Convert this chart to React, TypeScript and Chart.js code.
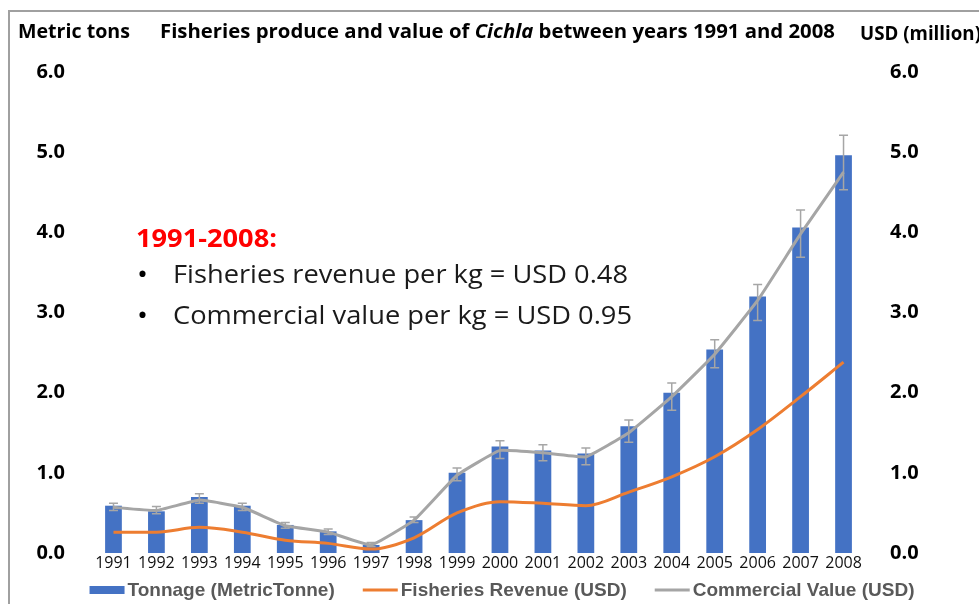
import React, { useEffect, useLayoutEffect, useRef } from "react";
import { Chart, registerables } from "chart.js";

Chart.register(...registerables);

const years = ["1991","1992","1993","1994","1995","1996","1997","1998","1999","2000","2001","2002","2003","2004","2005","2006","2007","2008"];
const tonnage = [0.59,0.52,0.70,0.59,0.35,0.27,0.10,0.41,1.00,1.33,1.28,1.24,1.58,2.00,2.54,3.20,4.06,4.96];
const fisheriesRevenue = [0.26,0.26,0.32,0.26,0.16,0.12,0.05,0.19,0.50,0.64,0.62,0.59,0.76,0.95,1.20,1.54,1.95,2.38];
const commercialValue = [0.57,0.53,0.66,0.57,0.34,0.26,0.10,0.41,0.97,1.28,1.25,1.20,1.50,1.95,2.48,3.15,3.98,4.75];
const errHigh = [0.62,0.58,0.74,0.62,0.38,0.30,0.13,0.45,1.06,1.40,1.35,1.31,1.66,2.12,2.66,3.35,4.28,5.21];
const errLow = [0.53,0.49,0.62,0.53,0.31,0.23,0.08,0.38,0.90,1.18,1.15,1.10,1.38,1.78,2.31,2.90,3.69,4.53];
const axisMin = 0;
const axisMax = 6;
const axisStep = 1;

const seriesNames = ["Tonnage (MetricTonne)", "Fisheries Revenue (USD)", "Commercial Value (USD)"];
const BLUE = "#4472C4";
const ORANGE = "#ED7D31";
const GRAY = "#A5A5A5";

const errorBarPlugin = {
  id: "errorBars",
  afterDatasetDraw(chart: any, args: any) {
    if (args.index !== 0) return;
    const { ctx } = chart;
    const xs = chart.scales.x;
    const ys = chart.scales.y;
    ctx.save();
    ctx.strokeStyle = "#A6A6A6";
    ctx.lineWidth = 1.5;
    for (let i = 0; i < years.length; i++) {
      const x = xs.getPixelForValue(i);
      const yh = ys.getPixelForValue(errHigh[i]);
      const yl = ys.getPixelForValue(errLow[i]);
      ctx.beginPath();
      ctx.moveTo(x, yh); ctx.lineTo(x, yl);
      ctx.moveTo(x - 4.5, yh); ctx.lineTo(x + 4.5, yh);
      ctx.moveTo(x - 4.5, yl); ctx.lineTo(x + 4.5, yl);
      ctx.stroke();
    }
    ctx.restore();
  },
};

const legendPlugin = {
  id: "customLegend",
  afterDraw(chart: any) {
    const { ctx } = chart;
    ctx.save();
    ctx.font = "bold 19px 'Liberation Sans', Arial, sans-serif";
    ctx.textBaseline = "middle";
    const y = 590;
    const swatch = 35;
    const gapText = 3;
    const gapItem = 28;
    const widths = seriesNames.map((n) => swatch + gapText + ctx.measureText(n).width);
    const total = widths.reduce((a, b) => a + b, 0) + gapItem * (seriesNames.length - 1);
    let x = 502 - total / 2;
    const colors = [BLUE, ORANGE, GRAY];
    seriesNames.forEach((n, i) => {
      if (i === 0) {
        ctx.fillStyle = colors[i];
        ctx.fillRect(x, y - 4, swatch, 8);
      } else {
        ctx.strokeStyle = colors[i];
        ctx.lineWidth = 3;
        ctx.beginPath();
        ctx.moveTo(x, y); ctx.lineTo(x + swatch, y);
        ctx.stroke();
      }
      ctx.fillStyle = "#595959";
      ctx.fillText(n, x + swatch + gapText, y + 1);
      x += widths[i] + gapItem;
    });
    ctx.restore();
  },
};

function FitText(props: { x: number; cy: number; w: number; size: number; weight?: string; color?: string; children: any }) {
  const ref = useRef<HTMLSpanElement>(null);
  useLayoutEffect(() => {
    const fit = () => {
      const el = ref.current;
      if (!el) return;
      el.style.transform = "none";
      const width = el.getBoundingClientRect().width;
      if (width > 0) el.style.transform = `scaleX(${props.w / width})`;
    };
    fit();
    (document as any).fonts?.ready?.then(fit);
  });
  return (
    <span
      ref={ref}
      style={{
        position: "absolute",
        left: props.x,
        top: props.cy - props.size * 0.68,
        fontFamily: "'Open Sans', 'Noto Sans', sans-serif",
        fontSize: props.size,
        fontWeight: props.weight || "normal",
        color: props.color || "#000",
        whiteSpace: "nowrap",
        lineHeight: 1.36,
        transformOrigin: "0 50%",
      }}
    >
      {props.children}
    </span>
  );
}

export default function App() {
  const canvasRef = useRef<HTMLCanvasElement>(null);

  useEffect(() => {
    const canvas = canvasRef.current!;
    const tickFont = { family: "'Open Sans', sans-serif", size: 20, weight: "bold" as const };
    const chart = new Chart(canvas, {
      type: "bar",
      data: {
        labels: years,
        datasets: [
          {
            type: "bar",
            label: seriesNames[0],
            data: tonnage,
            backgroundColor: BLUE,
            borderWidth: 0,
            barPercentage: 0.39,
            categoryPercentage: 1,
            yAxisID: "y",
            order: 3,
          } as any,
          {
            type: "line",
            label: seriesNames[1],
            data: fisheriesRevenue,
            borderColor: ORANGE,
            backgroundColor: ORANGE,
            borderWidth: 3,
            pointRadius: 0,
            cubicInterpolationMode: "monotone",
            yAxisID: "y1",
            order: 2,
          } as any,
          {
            type: "line",
            label: seriesNames[2],
            data: commercialValue,
            borderColor: GRAY,
            backgroundColor: GRAY,
            borderWidth: 3,
            pointRadius: 0,
            tension: 0.1,
            yAxisID: "y1",
            order: 1,
          } as any,
        ],
      },
      options: {
        animation: false,
        responsive: false,
        devicePixelRatio: 1,
        layout: { padding: { top: 72, bottom: 29, left: 0, right: 0 } },
        plugins: { legend: { display: false }, tooltip: { enabled: false } },
        scales: {
          x: {
            grid: { display: false, drawTicks: false },
            border: { display: false },
            ticks: {
              font: { family: "'Open Sans', sans-serif", size: 16 },
              color: "#111",
              padding: 1,
              maxRotation: 0,
              autoSkip: false,
            },
            afterFit: (s: any) => { s.height = 22; },
          },
          y: {
            position: "left",
            min: axisMin,
            max: axisMax,
            grid: { display: false, drawTicks: false },
            border: { display: false },
            ticks: { stepSize: axisStep, font: tickFont, color: "#000", padding: 27, callback: (v: any) => Number(v).toFixed(1) },
            afterFit: (s: any) => { s.width = 92; },
          },
          y1: {
            position: "right",
            min: axisMin,
            max: axisMax,
            grid: { display: false, drawTicks: false },
            border: { display: false },
            ticks: { stepSize: axisStep, font: tickFont, color: "#000", padding: 25, callback: (v: any) => Number(v).toFixed(1) },
            afterFit: (s: any) => { s.width = 114; },
          },
        },
      } as any,
      plugins: [errorBarPlugin, legendPlugin],
    });
    return () => chart.destroy();
  }, []);

  return (
    <div style={{ position: "fixed", left: 0, top: 0, width: 979, height: 604, overflow: "hidden", background: "#fff" }}>
      <div style={{ position: "absolute", left: 8, top: 10, width: 1100, height: 800, borderLeft: "2px solid #A0A0A0", borderTop: "2px solid #A0A0A0" }} />
      <canvas ref={canvasRef} width={979} height={604} style={{ position: "absolute", left: 0, top: 0, width: 979, height: 604 }} />
      <FitText x={18} cy={31} w={112} size={20} weight="bold">Metric tons</FitText>
      <FitText x={160} cy={31} w={675} size={20} weight="bold">
        Fisheries produce and value of <i>Cichla</i> between years 1991 and 2008
      </FitText>
      <FitText x={860} cy={33} w={121} size={20} weight="bold">USD (million)</FitText>
      <FitText x={136} cy={237} w={141} size={25} weight="bold" color="#FF0000">1991-2008:</FitText>
      <FitText x={137} cy={273} w={11} size={28}>•</FitText>
      <FitText x={173} cy={273} w={455} size={25} color="#1a1a1a">Fisheries revenue per kg = USD 0.48</FitText>
      <FitText x={137} cy={314} w={11} size={28}>•</FitText>
      <FitText x={173} cy={314} w={459} size={25} color="#1a1a1a">Commercial value per kg = USD 0.95</FitText>
    </div>
  );
}
